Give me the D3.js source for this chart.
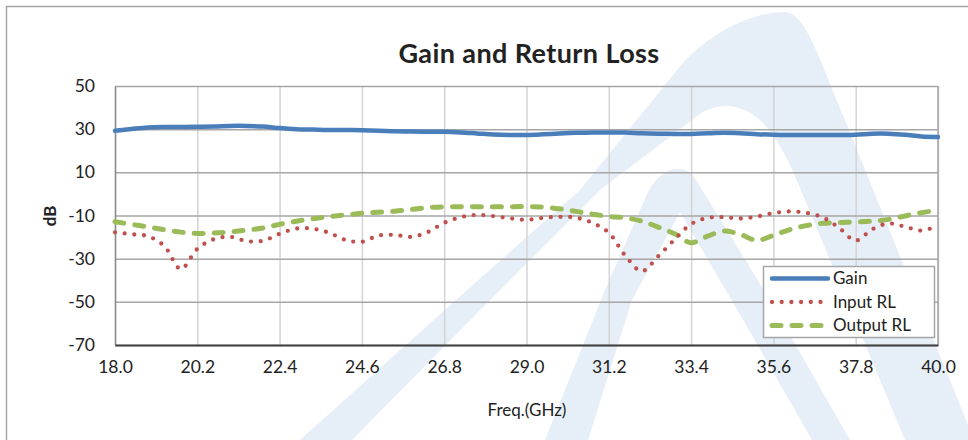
<!DOCTYPE html>
<html>
<head>
<meta charset="utf-8">
<script src="https://cdn.jsdelivr.net/npm/d3@7"></script>
<style>
  body { margin: 0; background: #fff; }
  text { font-family: Lato, "Open Sans", sans-serif; fill: #222; }
</style>
</head>
<body>
<div id="chart"></div>
<script>
"use strict";

// measured frequencies (GHz)
var freq = [18.00, 18.44, 18.88, 19.32, 19.76, 20.20, 20.64, 21.08, 21.52, 21.96,
            22.40, 22.84, 23.28, 23.72, 24.16, 24.60, 25.04, 25.48, 25.92, 26.36,
            26.80, 27.24, 27.68, 28.12, 28.56, 29.00, 29.44, 29.88, 30.32, 30.76,
            31.20, 31.64, 32.08, 32.52, 32.96, 33.40, 33.84, 34.28, 34.72, 35.16,
            35.60, 36.04, 36.48, 36.92, 37.36, 37.80, 38.24, 38.68, 39.12, 39.56, 40.00];

var gain = [29.3, 30.1, 30.8, 31.0, 31.0, 31.1, 31.2, 31.5, 31.5, 31.2,
            30.5, 30.0, 29.8, 29.6, 29.6, 29.5, 29.3, 29.0, 28.9, 28.8,
            28.8, 28.5, 28.0, 27.5, 27.3, 27.3, 27.6, 28.0, 28.3, 28.4,
            28.5, 28.4, 28.1, 27.9, 27.8, 27.8, 28.1, 28.3, 28.1, 27.7,
            27.4, 27.3, 27.3, 27.3, 27.3, 27.4, 27.9, 27.9, 27.4, 26.6, 26.4];

var inputRL = [-17.8, -18.7, -19.6, -24.2, -34.8, -25.5, -21.0, -19.9, -21.9, -21.7,
               -18.5, -16.1, -16.1, -18.0, -21.3, -22.2, -19.3, -19.0, -19.9, -17.7,
               -13.4, -10.8, -9.7, -10.3, -11.3, -12.0, -11.1, -10.6, -11.0, -13.4,
               -18.0, -28.6, -35.8, -28.9, -21.1, -14.0, -11.1, -10.8, -11.4, -10.5,
               -8.9, -8.1, -8.8, -10.9, -15.8, -21.6, -16.4, -13.7, -15.2, -17.0, -14.8];

var outputRL = [-12.9, -14.1, -15.3, -16.6, -17.7, -18.3, -18.1, -17.6, -16.8, -15.8,
                -14.1, -12.7, -11.5, -10.5, -9.7, -9.0, -8.5, -8.0, -7.2, -6.3,
                -6.0, -5.9, -5.9, -5.9, -5.9, -5.9, -6.1, -6.9, -8.1, -9.4,
                -10.4, -11.1, -12.6, -15.4, -18.5, -22.6, -19.6, -17.2, -18.8, -21.5,
                -19.2, -16.5, -14.7, -13.6, -13.3, -13.0, -12.6, -11.8, -10.2, -8.7, -7.6];

var xTicks = [18.0, 20.2, 22.4, 24.6, 26.8, 29.0, 31.2, 33.4, 35.6, 37.8, 40.0];
var yTicks = [50, 30, 10, -10, -30, -50, -70];
var seriesNames = ["Gain", "Input RL", "Output RL"];

var W = 968, H = 440;
var margin = { top: 86, right: 30, bottom: 95, left: 115 },
    w = W - margin.left - margin.right,
    h = H - margin.top - margin.bottom;

var svg = d3.select("#chart").append("svg")
  .attr("width", W).attr("height", H);

// faint logo watermark behind the chart
var wm = svg.append("g").attr("fill", "#e6eef7");
wm.append("path").attr("d",
  "M300,440 L467,290 L580,190 L677,70 C705,35 750,12 785,12 C805,12 820,60 845,120 " +
  "L968,425 L968,440 L905,440 L805,200 C785,150 765,108 728,106 C714,106 706,110 700,114 " +
  "L600,190 L500,290 L352,440 Z");
wm.append("path").attr("d",
  "M545,440 L605,290 L648,192 C660,168 684,160 696,180 L770,300 L850,440 L812,440 " +
  "L742,318 L680,212 L632,300 L588,440 Z");

// outer chart frame
svg.append("rect")
  .attr("x", 6.5).attr("y", 6.5).attr("width", W + 20).attr("height", H + 20)
  .attr("fill", "none").attr("stroke", "#a6a6a6").attr("stroke-width", 1.5);

var g = svg.append("g")
  .attr("transform", "translate(" + margin.left + "," + margin.top + ")");

var x = d3.scaleLinear().domain([18, 40]).range([0, w]);
var y = d3.scaleLinear().domain([-70, 50]).range([h, 0]);

// vertical grid
g.append("g")
  .attr("transform", "translate(0," + h + ")")
  .call(d3.axisBottom(x).tickValues(xTicks).tickSize(-h).tickFormat(""))
  .call(function(a) {
    a.select(".domain").remove();
    a.selectAll("line").attr("stroke", "#d4d4d4").attr("stroke-width", 1.5);
  });

// horizontal grid
g.append("g")
  .call(d3.axisLeft(y).tickValues(yTicks).tickSize(-w).tickFormat(""))
  .call(function(a) {
    a.select(".domain").remove();
    a.selectAll("line").attr("stroke", "#a6a6a6").attr("stroke-width", 1.5);
  });

// right border
g.append("line").attr("x1", w).attr("x2", w).attr("y1", 0).attr("y2", h)
  .attr("stroke", "#a6a6a6").attr("stroke-width", 1.5);

// y axis (plain hyphen for negatives, like the original)
g.append("g")
  .call(d3.axisLeft(y).tickValues(yTicks).tickSize(0).tickPadding(20)
          .tickFormat(function(d) { return String(d); }))
  .call(function(a) {
    a.select(".domain").attr("stroke", "#8c8c8c").attr("stroke-width", 1.5);
    a.selectAll("text").style("font-size", "17.5px").attr("fill", "#222");
  });

// x axis
g.append("g")
  .attr("transform", "translate(0," + h + ")")
  .call(d3.axisBottom(x).tickValues(xTicks).tickSize(0).tickPadding(16)
          .tickFormat(function(d) { return d.toFixed(1); }))
  .call(function(a) {
    a.select(".domain").attr("stroke", "#404040").attr("stroke-width", 2);
    a.selectAll("text").style("font-size", "17.5px").attr("fill", "#222");
  });

var rows = freq.map(function(f, i) {
  return { f: f, gain: gain[i], inp: inputRL[i], out: outputRL[i] };
});

function lineFor(key) {
  return d3.line()
    .x(function(d) { return x(d.f); })
    .y(function(d) { return y(d[key]); })
    .curve(d3.curveCatmullRom.alpha(0.5));
}

var styles = [
  { key: "gain", color: "#4a7ebb", width: 4.5, dash: null, cap: "round" },
  { key: "inp",  color: "#c0504d", width: 4.3, dash: "0 9.7", cap: "round" },
  { key: "out",  color: "#9bbb59", width: 5,   dash: "9 11", cap: "round" }
];

// draw output first, then input, gain on top
[styles[2], styles[1], styles[0]].forEach(function(s) {
  g.append("path")
    .datum(rows)
    .attr("d", lineFor(s.key))
    .attr("fill", "none")
    .attr("stroke", s.color)
    .attr("stroke-width", s.width)
    .attr("stroke-linecap", s.cap)
    .attr("stroke-dasharray", s.dash);
});

// title and axis titles
svg.append("text").attr("x", 529).attr("y", 63).attr("text-anchor", "middle")
  .style("font-size", "27px").style("font-weight", "bold").style("letter-spacing", "0.4px")
  .text("Gain and Return Loss");
svg.append("text").attr("transform", "translate(56,216) rotate(-90)")
  .attr("text-anchor", "middle").style("font-size", "17px").style("font-weight", "bold")
  .text("dB");
svg.append("text").attr("x", 527).attr("y", 416).attr("text-anchor", "middle")
  .style("font-size", "17px").text("Freq.(GHz)");

// legend
var lg = svg.append("g").attr("transform", "translate(763,266)");
lg.append("rect").attr("x", 0.5).attr("y", 0.5).attr("width", 171).attr("height", 71)
  .attr("fill", "#fff").attr("stroke", "#a6a6a6").attr("stroke-width", 1.5);
seriesNames.forEach(function(name, i) {
  var s = styles[i], yy = 12.5 + 23.5 * i;
  lg.append("line").attr("x1", 9).attr("x2", 65).attr("y1", yy).attr("y2", yy)
    .attr("stroke", s.color).attr("stroke-width", s.width)
    .attr("stroke-linecap", s.cap).attr("stroke-dasharray", s.dash);
  lg.append("text").attr("x", 70).attr("y", yy).attr("dy", "0.35em")
    .style("font-size", "17px").text(name);
});
</script>
</body>
</html>
